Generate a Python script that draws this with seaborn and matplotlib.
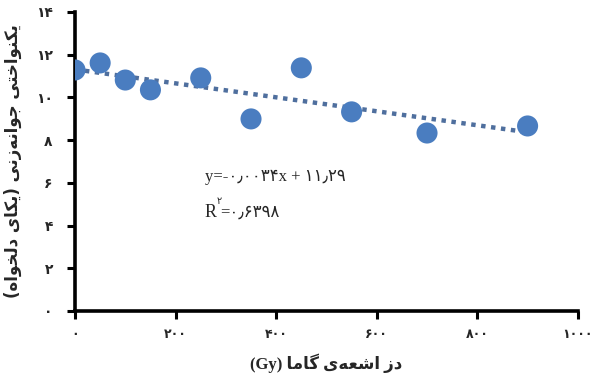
import matplotlib
matplotlib.use("Agg")
import matplotlib.pyplot as plt
import seaborn as sns
import pandas as pd

# داده‌ها (خوانده شده از نمودار)
dose = [0, 50, 100, 150, 250, 350, 450, 550, 700, 900]
uniformity = [11.28, 11.61, 10.81, 10.35, 10.91, 8.99, 11.38, 9.32, 8.33, 8.66]
x_ticks = [0, 200, 400, 600, 800, 1000]
y_ticks = [0, 2, 4, 6, 8, 10, 12, 14]

FA_DIGITS = str.maketrans("0123456789", "۰۱۲۳۴۵۶۷۸۹")

# شکل‌دهی ساده‌ی حروف فارسی (matplotlib خودش این کار را نمی‌کند)
FORMS = {
    "ا": ("\uFE8D", "\uFE8E"), "د": ("\uFEA9", "\uFEAA"), "ز": ("\uFEAF", "\uFEB0"),
    "و": ("\uFEED", "\uFEEE"), "ر": ("\uFEAD", "\uFEAE"),
    "ت": ("\uFE95", "\uFE96", "\uFE97", "\uFE98"), "ج": ("\uFE9D", "\uFE9E", "\uFE9F", "\uFEA0"),
    "خ": ("\uFEA5", "\uFEA6", "\uFEA7", "\uFEA8"), "ش": ("\uFEB5", "\uFEB6", "\uFEB7", "\uFEB8"),
    "ع": ("\uFEC9", "\uFECA", "\uFECB", "\uFECC"), "ل": ("\uFEDD", "\uFEDE", "\uFEDF", "\uFEE0"),
    "م": ("\uFEE1", "\uFEE2", "\uFEE3", "\uFEE4"), "ن": ("\uFEE5", "\uFEE6", "\uFEE7", "\uFEE8"),
    "ه": ("\uFEE9", "\uFEEA", "\uFEEB", "\uFEEC"), "ک": ("\uFB8E", "\uFB8F", "\uFB90", "\uFB91"),
    "گ": ("\uFB92", "\uFB93", "\uFB94", "\uFB95"), "ی": ("\uFBFC", "\uFBFD", "\uFBFE", "\uFBFF"),
}


def shape(word):
    out = []
    for i, c in enumerate(word):
        if c not in FORMS:
            if c != "\u200c":
                out.append(c)
            continue
        prev = word[i - 1] if i > 0 else ""
        nxt = word[i + 1] if i + 1 < len(word) else ""
        jp = prev in FORMS and len(FORMS[prev]) == 4
        jn = len(FORMS[c]) == 4 and nxt in FORMS
        f = FORMS[c]
        if jp and jn:
            out.append(f[3])
        elif jp:
            out.append(f[1])
        elif jn:
            out.append(f[2])
        else:
            out.append(f[0])
    return "".join(out)[::-1]


ylabel = ("(" + shape("دلخواه") + " " + shape("یکای") + ") "
          + shape("جوانه\u200cزنی") + " " + shape("یکنواختی"))
xlabel = "(Gy) " + shape("گاما") + " " + shape("اشعه\u200cی") + " " + shape("دز")

df = pd.DataFrame({"dose": dose, "uniformity": uniformity})

sns.set_style("white")
plt.rcParams["font.family"] = ["DejaVu Sans"]

fig = plt.figure(figsize=(5.93, 3.83), dpi=100)
ax = fig.add_axes([0.1265, 0.188, 0.848, 0.781])

sns.regplot(data=df, x="dose", y="uniformity", ax=ax, ci=None, truncate=True,
            scatter_kws=dict(s=230, color="#4A7DC0", alpha=1, edgecolor="none", zorder=3),
            line_kws=dict(color="#4F6F9E", lw=3.2, linestyle=(0, (1, 1.25)),
                          dash_capstyle="butt", zorder=2))

ax.set_xlim(0, 1000)
ax.set_ylim(0, 14)
ax.set_xticks(x_ticks)
ax.set_yticks(y_ticks)
ax.set_xticklabels([str(t).translate(FA_DIGITS) for t in x_ticks], fontweight="bold", fontsize=9)
ax.set_yticklabels([str(t).translate(FA_DIGITS) for t in y_ticks], fontweight="bold", fontsize=10)
ax.tick_params(axis="both", bottom=True, left=True, direction="out",
               length=6, width=2.2, color="black")
ax.tick_params(axis="y", pad=10)
ax.tick_params(axis="x", pad=6)

for side in ["top", "right"]:
    ax.spines[side].set_visible(False)
for side in ["left", "bottom"]:
    ax.spines[side].set_linewidth(2.6)
    ax.spines[side].set_color("black")

ax.set_xlabel(xlabel, fontweight="bold", fontsize=12, labelpad=9,
              family=["Liberation Serif", "DejaVu Sans"])
ax.set_ylabel(ylabel, fontweight="bold", fontsize=12, labelpad=10)

# معادله‌ی خط روند
ax.text(258, 6.25, "y=-" + "۰٫۰۰۳۴".translate(FA_DIGITS) + "x + " + "۱۱٫۲۹",
        fontsize=12, va="center", ha="left", family=["Liberation Serif", "DejaVu Sans"])
ax.text(258, 4.6, "R", fontsize=13, va="center", ha="left", family=["Liberation Serif"])
ax.text(282, 5.15, "۲", fontsize=7, va="center", ha="left", family=["DejaVu Sans"])
ax.text(289, 4.6, "=" + "۰٫۶۳۹۸", fontsize=12, va="center", ha="left",
        family=["Liberation Serif", "DejaVu Sans"])

fig.savefig("out.png", dpi=100)
